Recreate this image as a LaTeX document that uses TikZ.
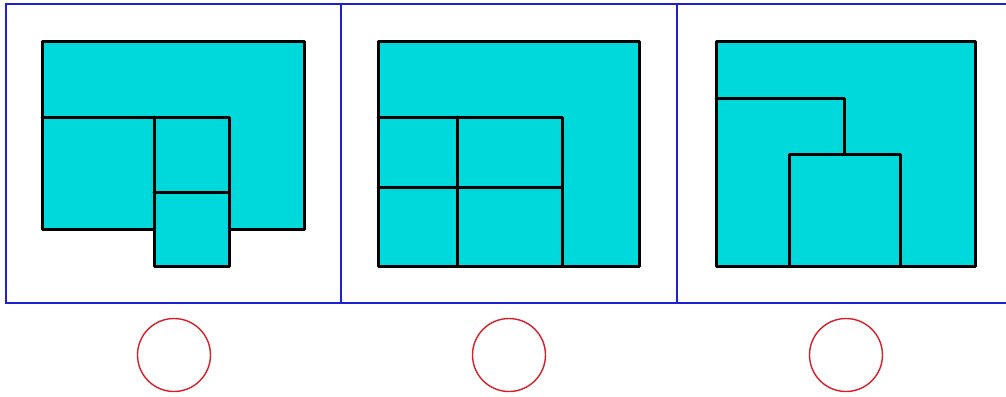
\documentclass[tikz,border=0pt]{standalone}
\begin{document}
\begin{tikzpicture}[x=1pt,y=-1pt,
  frame/.style={draw={rgb,255:red,30;green,30;blue,210},line width=2.5pt},
  piece/.style={draw=black,line width=3pt,line join=round,line cap=round},
  tile/.style={fill={rgb,255:red,0;green,217;blue,220}},
  ring/.style={draw={rgb,255:red,215;green,30;blue,40},line width=1.4pt}]
\useasboundingbox (0,0) rectangle (1006,396);
% frames
\draw[frame] (1010,4) -- (6,4) -- (6,303) -- (1010,303);
\draw[frame] (341,4) -- (341,303);
\draw[frame] (677,4) -- (677,303);
% panel 1
\fill[tile] (42,42) -- (304,42) -- (304,229) -- (229,229) -- (229,266) -- (154,266) -- (154,229) -- (42,229) -- cycle;
\draw[piece] (42,42) -- (304,42) -- (304,229) -- (229,229) -- (229,266) -- (154,266) -- (154,229) -- (42,229) -- cycle;
\draw[piece] (42,117) -- (229,117) -- (229,229);
\draw[piece] (154,117) -- (154,229);
\draw[piece] (154,192) -- (229,192);
% panel 2
\fill[tile] (378,42) rectangle (639,266);
\draw[piece] (378,42) rectangle (639,266);
\draw[piece] (378,117) -- (562,117) -- (562,266);
\draw[piece] (457,117) -- (457,266);
\draw[piece] (378,187) -- (562,187);
% panel 3
\fill[tile] (716,42) rectangle (975,266);
\draw[piece] (716,42) rectangle (975,266);
\draw[piece] (716,98) -- (844,98) -- (844,154);
\draw[piece] (789,266) -- (789,154) -- (900,154) -- (900,266);
% circles
\draw[ring] (174,355) circle (36.5);
\draw[ring] (509,355) circle (36.5);
\draw[ring] (846,355) circle (36.5);
\end{tikzpicture}
\end{document}
